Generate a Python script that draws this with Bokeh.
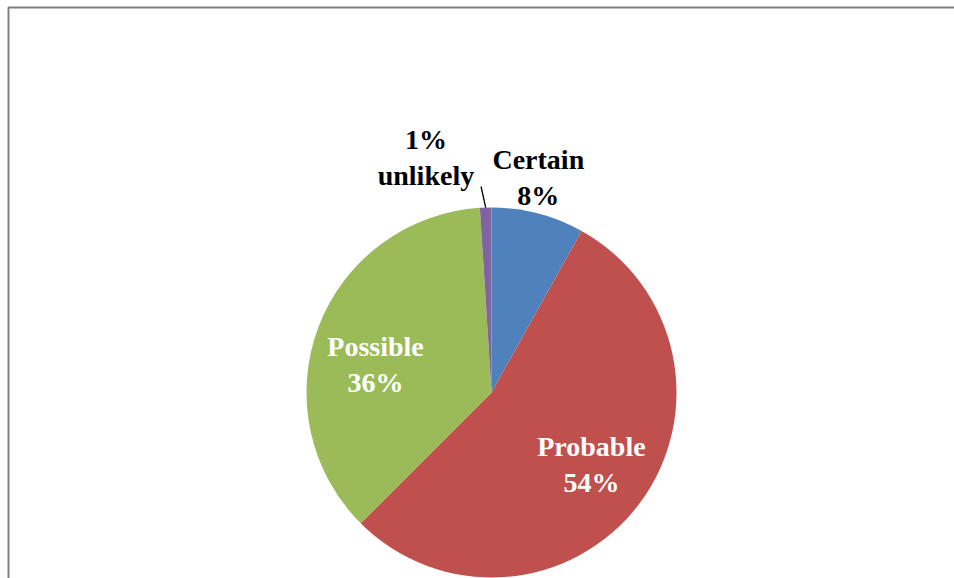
import math
from bokeh.plotting import figure
from bokeh.models import Range1d, BoxAnnotation, ColumnDataSource
from bokeh.core.properties import value
from bokeh.embed import file_html
from bokeh.resources import INLINE

# ---- data ----
categories = ["Certain", "Probable", "Possible", "unlikely"]
shares = [8.1, 54.4, 36.5, 1.0]
pct_labels = ["8%", "54%", "36%", "1%"]
colors = ["#4F81BD", "#C0504D", "#9BBB59", "#8064A2"]

# ---- layout / style ----
W, H = 954, 578
CX, CY, R = 491, 578 - 392, 185
label_r = [1.19, 0.666, 0.645, 1.318]          # fraction of radius
label_dang = [-2.3, -1.3, -7.1, -13.8]         # degrees offset (clockwise)
label_color = ["black", "white", "white", "black"]
pct_first = [False, False, False, True]

p = figure(width=W, height=H, x_range=Range1d(0, W), y_range=Range1d(0, H),
           output_backend="svg", toolbar_location=None, min_border=0)
p.axis.visible = False
p.grid.visible = False
p.outline_line_color = None
p.background_fill_color = "white"
p.border_fill_color = "white"

total = sum(shares)
starts, ends, mids = [], [], []
cum = 0.0
for s in shares:
    f0 = cum / total
    cum += s
    f1 = cum / total
    starts.append(math.pi / 2 - 2 * math.pi * f0)
    ends.append(math.pi / 2 - 2 * math.pi * f1)
    mids.append((f0 + f1) / 2 * 360.0)  # degrees clockwise from top

src = ColumnDataSource(dict(start=starts, end=ends, color=colors, cat=categories))
p.wedge(x=CX, y=CY, radius=R, start_angle="start", end_angle="end",
        direction="clock", fill_color="color", line_color=None, source=src)

# labels
lx, ly, lt, lc = [], [], [], []
for i, c in enumerate(categories):
    a = math.radians(mids[i] + label_dang[i])
    lx.append(CX + R * label_r[i] * math.sin(a))
    ly.append(CY + R * label_r[i] * math.cos(a))
    lt.append(f"{pct_labels[i]}\n{c}" if pct_first[i] else f"{c}\n{pct_labels[i]}")
    lc.append(label_color[i])
lsrc = ColumnDataSource(dict(x=lx, y=ly, t=lt, c=lc))
p.text(x="x", y="y", text="t", text_color="c", source=lsrc,
       text_font=value("Liberation Serif"), text_font_style="bold",
       text_font_size="28px", text_align="center", text_baseline="middle",
       text_line_height=1.14)

# leader line for the small slice
i = 3
a0 = math.radians(mids[i])
a1 = math.radians(mids[i] - 1.1)
p.line(x=[CX + R * math.sin(a0), CX + R * 1.115 * math.sin(a1)],
       y=[CY + R * math.cos(a0), CY + R * 1.115 * math.cos(a1)],
       line_color="black", line_width=1.3)

# chart area border (left and top visible)
p.add_layout(BoxAnnotation(left=8, right=W + 100, top=H - 7, bottom=-100,
                           fill_alpha=0, line_color="#808080", line_alpha=1.0,
                           line_width=2))

open("out.html", "w").write(file_html(p, INLINE))
